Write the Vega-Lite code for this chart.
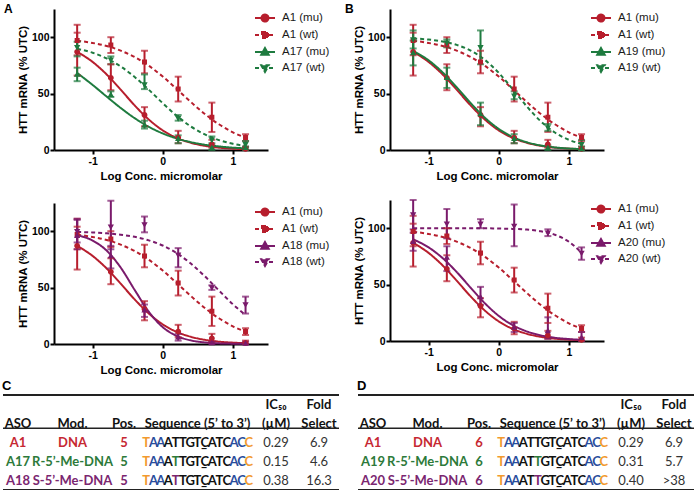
{
"$schema": "https://vega.github.io/schema/vega-lite/v6.json",
"background": "white",
"padding": {"left": 2, "top": 3, "right": 0, "bottom": 0},
"config": {
  "view": {"stroke": null},
  "font": "Liberation Sans",
  "axis": {"grid": false, "domainColor": "#000", "domainWidth": 2, "tickColor": "#000", "tickWidth": 2, "tickSize": 4, "labelFont": "Liberation Sans", "labelFontWeight": "bold", "labelFontSize": 10.5, "labelColor": "#000", "titleFont": "Liberation Sans", "titleFontWeight": "bold", "titleFontSize": 11.5, "titleColor": "#000"},
  "axisX": {"labelPadding": 2, "titlePadding": 4},
  "axisY": {"labelPadding": 1, "titlePadding": 3},
  "legend": {"labelFont": "Liberation Sans", "labelFontSize": 11.5, "labelColor": "#1a1a1a", "labelLimit": 200, "symbolOpacity": 1, "orient": "right", "offset": -12, "padding": 3, "symbolSize": 100, "labelOffset": 11, "rowPadding": 2, "symbolStrokeWidth": 2}
},
"datasets": {
"pts": [
{"p":"ctrl","s":"A1 (mu)","x":-1.22,"y":87,"lo":66,"hi":104},
{"p":"ctrl","s":"A1 (mu)","x":-0.74,"y":64,"lo":53,"hi":76},
{"p":"ctrl","s":"A1 (mu)","x":-0.26,"y":31,"lo":21,"hi":38},
{"p":"ctrl","s":"A1 (mu)","x":0.22,"y":11,"lo":6,"hi":17},
{"p":"ctrl","s":"A1 (mu)","x":0.7,"y":5,"lo":2,"hi":9},
{"p":"ctrl","s":"A1 (mu)","x":1.18,"y":1,"lo":0,"hi":3},
{"p":"ctrl","s":"A1 (wt)","x":-1.22,"y":97,"lo":84,"hi":111},
{"p":"ctrl","s":"A1 (wt)","x":-0.74,"y":93,"lo":86,"hi":100},
{"p":"ctrl","s":"A1 (wt)","x":-0.26,"y":78,"lo":68,"hi":88},
{"p":"ctrl","s":"A1 (wt)","x":0.22,"y":54,"lo":43,"hi":65},
{"p":"ctrl","s":"A1 (wt)","x":0.7,"y":29,"lo":16,"hi":42},
{"p":"ctrl","s":"A1 (wt)","x":1.18,"y":11,"lo":8,"hi":14},
{"p":"A","s":"A17 (mu)","x":-1.22,"y":67,"lo":61,"hi":73},
{"p":"A","s":"A17 (mu)","x":-0.74,"y":49,"lo":47,"hi":52},
{"p":"A","s":"A17 (mu)","x":-0.26,"y":22,"lo":19,"hi":26},
{"p":"A","s":"A17 (mu)","x":0.22,"y":10,"lo":6,"hi":13},
{"p":"A","s":"A17 (mu)","x":0.7,"y":2,"lo":0,"hi":4},
{"p":"A","s":"A17 (mu)","x":1.18,"y":2,"lo":0,"hi":3},
{"p":"A","s":"A17 (wt)","x":-1.22,"y":91,"lo":83,"hi":96},
{"p":"A","s":"A17 (wt)","x":-0.74,"y":80,"lo":76,"hi":83},
{"p":"A","s":"A17 (wt)","x":-0.26,"y":58,"lo":54,"hi":67},
{"p":"A","s":"A17 (wt)","x":0.22,"y":28,"lo":26,"hi":31},
{"p":"A","s":"A17 (wt)","x":0.7,"y":9,"lo":6,"hi":12},
{"p":"A","s":"A17 (wt)","x":1.18,"y":5,"lo":2,"hi":8},
{"p":"B","s":"A19 (mu)","x":-1.22,"y":86,"lo":75,"hi":97},
{"p":"B","s":"A19 (mu)","x":-0.74,"y":64,"lo":55,"hi":73},
{"p":"B","s":"A19 (mu)","x":-0.26,"y":32,"lo":22,"hi":42},
{"p":"B","s":"A19 (mu)","x":0.22,"y":10,"lo":6,"hi":14},
{"p":"B","s":"A19 (mu)","x":0.7,"y":2,"lo":0,"hi":4},
{"p":"B","s":"A19 (mu)","x":1.18,"y":1,"lo":0,"hi":3},
{"p":"B","s":"A19 (wt)","x":-1.22,"y":98,"lo":90,"hi":106},
{"p":"B","s":"A19 (wt)","x":-0.74,"y":95,"lo":91,"hi":98},
{"p":"B","s":"A19 (wt)","x":-0.26,"y":91,"lo":76,"hi":106},
{"p":"B","s":"A19 (wt)","x":0.22,"y":48,"lo":45,"hi":52},
{"p":"B","s":"A19 (wt)","x":0.7,"y":20,"lo":17,"hi":23},
{"p":"B","s":"A19 (wt)","x":1.18,"y":5,"lo":1,"hi":9},
{"p":"C","s":"A18 (mu)","x":-1.22,"y":96,"lo":84,"hi":110},
{"p":"C","s":"A18 (mu)","x":-0.74,"y":78,"lo":67,"hi":87},
{"p":"C","s":"A18 (mu)","x":-0.26,"y":30,"lo":24,"hi":35},
{"p":"C","s":"A18 (mu)","x":0.22,"y":6,"lo":3,"hi":9},
{"p":"C","s":"A18 (mu)","x":0.7,"y":1,"lo":0,"hi":2},
{"p":"C","s":"A18 (mu)","x":1.18,"y":0.5,"lo":0,"hi":2},
{"p":"C","s":"A18 (wt)","x":-1.22,"y":100,"lo":90,"hi":111},
{"p":"C","s":"A18 (wt)","x":-0.74,"y":104,"lo":84,"hi":127},
{"p":"C","s":"A18 (wt)","x":-0.26,"y":106,"lo":99,"hi":113},
{"p":"C","s":"A18 (wt)","x":0.22,"y":79,"lo":68,"hi":85},
{"p":"C","s":"A18 (wt)","x":0.7,"y":50,"lo":48,"hi":52},
{"p":"C","s":"A18 (wt)","x":1.18,"y":35,"lo":27,"hi":42},
{"p":"D","s":"A20 (mu)","x":-1.22,"y":88,"lo":80,"hi":96},
{"p":"D","s":"A20 (mu)","x":-0.74,"y":74,"lo":62,"hi":84},
{"p":"D","s":"A20 (mu)","x":-0.26,"y":39,"lo":32,"hi":48},
{"p":"D","s":"A20 (mu)","x":0.22,"y":12,"lo":8,"hi":16},
{"p":"D","s":"A20 (mu)","x":0.7,"y":9,"lo":2,"hi":21},
{"p":"D","s":"A20 (mu)","x":1.18,"y":3,"lo":0,"hi":8},
{"p":"D","s":"A20 (wt)","x":-1.22,"y":112,"lo":99,"hi":125},
{"p":"D","s":"A20 (wt)","x":-0.74,"y":104,"lo":91,"hi":117},
{"p":"D","s":"A20 (wt)","x":-0.26,"y":104,"lo":100,"hi":108},
{"p":"D","s":"A20 (wt)","x":0.22,"y":102,"lo":84,"hi":121},
{"p":"D","s":"A20 (wt)","x":0.7,"y":96,"lo":93,"hi":99},
{"p":"D","s":"A20 (wt)","x":1.18,"y":78,"lo":72,"hi":83}
],
"curves": [
{"p":"ctrl","s":"A1 (mu)","x":-1.22,"y":87.0},{"p":"ctrl","s":"A1 (mu)","x":-1.0,"y":78.1},{"p":"ctrl","s":"A1 (mu)","x":-0.8,"y":67.0},{"p":"ctrl","s":"A1 (mu)","x":-0.6,"y":53.5},{"p":"ctrl","s":"A1 (mu)","x":-0.4,"y":39.5},{"p":"ctrl","s":"A1 (mu)","x":-0.2,"y":27.1},{"p":"ctrl","s":"A1 (mu)","x":0,"y":17.4},{"p":"ctrl","s":"A1 (mu)","x":0.2,"y":10.7},{"p":"ctrl","s":"A1 (mu)","x":0.4,"y":6.4},{"p":"ctrl","s":"A1 (mu)","x":0.6,"y":3.7},{"p":"ctrl","s":"A1 (mu)","x":0.8,"y":2.1},{"p":"ctrl","s":"A1 (mu)","x":1.0,"y":1.2},{"p":"ctrl","s":"A1 (mu)","x":1.18,"y":0.7},
{"p":"ctrl","s":"A1 (wt)","x":-1.22,"y":96.9},{"p":"ctrl","s":"A1 (wt)","x":-1.0,"y":94.9},{"p":"ctrl","s":"A1 (wt)","x":-0.8,"y":92.2},{"p":"ctrl","s":"A1 (wt)","x":-0.6,"y":88.1},{"p":"ctrl","s":"A1 (wt)","x":-0.4,"y":82.4},{"p":"ctrl","s":"A1 (wt)","x":-0.2,"y":74.7},{"p":"ctrl","s":"A1 (wt)","x":0,"y":65.1},{"p":"ctrl","s":"A1 (wt)","x":0.2,"y":54.0},{"p":"ctrl","s":"A1 (wt)","x":0.4,"y":42.6},{"p":"ctrl","s":"A1 (wt)","x":0.6,"y":31.9},{"p":"ctrl","s":"A1 (wt)","x":0.8,"y":22.8},{"p":"ctrl","s":"A1 (wt)","x":1.0,"y":15.7},{"p":"ctrl","s":"A1 (wt)","x":1.18,"y":10.9},
{"p":"A","s":"A17 (mu)","x":-1.22,"y":68.3},{"p":"A","s":"A17 (mu)","x":-1.0,"y":57.7},{"p":"A","s":"A17 (mu)","x":-0.8,"y":47.4},{"p":"A","s":"A17 (mu)","x":-0.6,"y":37.3},{"p":"A","s":"A17 (mu)","x":-0.4,"y":28.2},{"p":"A","s":"A17 (mu)","x":-0.2,"y":20.6},{"p":"A","s":"A17 (mu)","x":0,"y":14.7},{"p":"A","s":"A17 (mu)","x":0.2,"y":10.2},{"p":"A","s":"A17 (mu)","x":0.4,"y":7.0},{"p":"A","s":"A17 (mu)","x":0.6,"y":4.7},{"p":"A","s":"A17 (mu)","x":0.8,"y":3.2},{"p":"A","s":"A17 (mu)","x":1.0,"y":2.1},{"p":"A","s":"A17 (mu)","x":1.18,"y":1.5},
{"p":"A","s":"A17 (wt)","x":-1.22,"y":89.7},{"p":"A","s":"A17 (wt)","x":-1.0,"y":86.2},{"p":"A","s":"A17 (wt)","x":-0.8,"y":81.2},{"p":"A","s":"A17 (wt)","x":-0.6,"y":74.1},{"p":"A","s":"A17 (wt)","x":-0.4,"y":64.7},{"p":"A","s":"A17 (wt)","x":-0.2,"y":53.5},{"p":"A","s":"A17 (wt)","x":0,"y":41.5},{"p":"A","s":"A17 (wt)","x":0.2,"y":30.3},{"p":"A","s":"A17 (wt)","x":0.4,"y":20.9},{"p":"A","s":"A17 (wt)","x":0.6,"y":13.8},{"p":"A","s":"A17 (wt)","x":0.8,"y":8.8},{"p":"A","s":"A17 (wt)","x":1.0,"y":5.5},{"p":"A","s":"A17 (wt)","x":1.18,"y":3.6},
{"p":"B","s":"A19 (mu)","x":-1.22,"y":87.9},{"p":"B","s":"A19 (mu)","x":-1.0,"y":79.5},{"p":"B","s":"A19 (mu)","x":-0.8,"y":68.8},{"p":"B","s":"A19 (mu)","x":-0.6,"y":55.6},{"p":"B","s":"A19 (mu)","x":-0.4,"y":41.6},{"p":"B","s":"A19 (mu)","x":-0.2,"y":28.8},{"p":"B","s":"A19 (mu)","x":0,"y":18.7},{"p":"B","s":"A19 (mu)","x":0.2,"y":11.5},{"p":"B","s":"A19 (mu)","x":0.4,"y":6.9},{"p":"B","s":"A19 (mu)","x":0.6,"y":4.0},{"p":"B","s":"A19 (mu)","x":0.8,"y":2.3},{"p":"B","s":"A19 (mu)","x":1.0,"y":1.3},{"p":"B","s":"A19 (mu)","x":1.18,"y":0.8},
{"p":"B","s":"A19 (wt)","x":-1.22,"y":98.9},{"p":"B","s":"A19 (wt)","x":-1.0,"y":97.9},{"p":"B","s":"A19 (wt)","x":-0.8,"y":96.2},{"p":"B","s":"A19 (wt)","x":-0.6,"y":93.2},{"p":"B","s":"A19 (wt)","x":-0.4,"y":88.1},{"p":"B","s":"A19 (wt)","x":-0.2,"y":80.0},{"p":"B","s":"A19 (wt)","x":0,"y":68.4},{"p":"B","s":"A19 (wt)","x":0.2,"y":53.8},{"p":"B","s":"A19 (wt)","x":0.4,"y":38.6},{"p":"B","s":"A19 (wt)","x":0.6,"y":25.4},{"p":"B","s":"A19 (wt)","x":0.8,"y":15.5},{"p":"B","s":"A19 (wt)","x":1.0,"y":9.0},{"p":"B","s":"A19 (wt)","x":1.18,"y":5.4},
{"p":"C","s":"A18 (mu)","x":-1.22,"y":96.5},{"p":"C","s":"A18 (mu)","x":-1.0,"y":91.7},{"p":"C","s":"A18 (mu)","x":-0.8,"y":82.8},{"p":"C","s":"A18 (mu)","x":-0.6,"y":67.8},{"p":"C","s":"A18 (mu)","x":-0.4,"y":47.9},{"p":"C","s":"A18 (mu)","x":-0.2,"y":28.7},{"p":"C","s":"A18 (mu)","x":0,"y":14.9},{"p":"C","s":"A18 (mu)","x":0.2,"y":7.1},{"p":"C","s":"A18 (mu)","x":0.4,"y":3.2},{"p":"C","s":"A18 (mu)","x":0.6,"y":1.4},{"p":"C","s":"A18 (mu)","x":0.8,"y":0.6},{"p":"C","s":"A18 (mu)","x":1.0,"y":0.3},{"p":"C","s":"A18 (mu)","x":1.18,"y":0.1},
{"p":"C","s":"A18 (wt)","x":-1.22,"y":99.3},{"p":"C","s":"A18 (wt)","x":-1.0,"y":98.9},{"p":"C","s":"A18 (wt)","x":-0.8,"y":98.1},{"p":"C","s":"A18 (wt)","x":-0.6,"y":96.9},{"p":"C","s":"A18 (wt)","x":-0.4,"y":95.0},{"p":"C","s":"A18 (wt)","x":-0.2,"y":91.9},{"p":"C","s":"A18 (wt)","x":0,"y":87.3},{"p":"C","s":"A18 (wt)","x":0.2,"y":80.5},{"p":"C","s":"A18 (wt)","x":0.4,"y":71.3},{"p":"C","s":"A18 (wt)","x":0.6,"y":60.0},{"p":"C","s":"A18 (wt)","x":0.8,"y":47.5},{"p":"C","s":"A18 (wt)","x":1.0,"y":35.2},{"p":"C","s":"A18 (wt)","x":1.18,"y":25.6},
{"p":"D","s":"A20 (mu)","x":-1.22,"y":90.1},{"p":"D","s":"A20 (mu)","x":-1.0,"y":83.0},{"p":"D","s":"A20 (mu)","x":-0.8,"y":73.5},{"p":"D","s":"A20 (mu)","x":-0.6,"y":61.2},{"p":"D","s":"A20 (mu)","x":-0.4,"y":47.2},{"p":"D","s":"A20 (mu)","x":-0.2,"y":33.6},{"p":"D","s":"A20 (mu)","x":0,"y":22.3},{"p":"D","s":"A20 (mu)","x":0.2,"y":14.0},{"p":"D","s":"A20 (mu)","x":0.4,"y":8.5},{"p":"D","s":"A20 (mu)","x":0.6,"y":5.0},{"p":"D","s":"A20 (mu)","x":0.8,"y":2.9},{"p":"D","s":"A20 (mu)","x":1.0,"y":1.7},{"p":"D","s":"A20 (mu)","x":1.18,"y":1.0},
{"p":"D","s":"A20 (wt)","x":-1.22,"y":100.0},{"p":"D","s":"A20 (wt)","x":-1.0,"y":100.0},{"p":"D","s":"A20 (wt)","x":-0.8,"y":99.9},{"p":"D","s":"A20 (wt)","x":-0.6,"y":99.9},{"p":"D","s":"A20 (wt)","x":-0.4,"y":99.9},{"p":"D","s":"A20 (wt)","x":-0.2,"y":99.9},{"p":"D","s":"A20 (wt)","x":0,"y":99.7},{"p":"D","s":"A20 (wt)","x":0.2,"y":99.4},{"p":"D","s":"A20 (wt)","x":0.4,"y":98.8},{"p":"D","s":"A20 (wt)","x":0.6,"y":97.3},{"p":"D","s":"A20 (wt)","x":0.8,"y":94.2},{"p":"D","s":"A20 (wt)","x":1.0,"y":88.0},{"p":"D","s":"A20 (wt)","x":1.18,"y":78.2}
],
"cells": [
{"t":"C","col":"ASO","row":"h2","text":"ASO","g":"header"},
{"t":"C","col":"Mod","row":"h2","text":"Mod.","g":"header"},
{"t":"C","col":"Pos","row":"h2","text":"Pos.","g":"header"},
{"t":"C","col":"Seq","row":"h2","text":"Sequence (5’ to 3’)","g":"header"},
{"t":"C","col":"IC50","row":"h1","text":"IC₅₀","g":"header"},
{"t":"C","col":"IC50","row":"h2","text":"(µM)","g":"header"},
{"t":"C","col":"Fold","row":"h1","text":"Fold","g":"header"},
{"t":"C","col":"Fold","row":"h2","text":"Select","g":"header"},
{"t":"C","col":"ASO","row":"r1","text":"A1","g":"A1"},
{"t":"C","col":"Mod","row":"r1","text":"DNA","g":"A1"},
{"t":"C","col":"Pos","row":"r1","text":"5","g":"A1"},
{"t":"C","col":"IC50","row":"r1","text":"0.29","g":"value"},
{"t":"C","col":"Fold","row":"r1","text":"6.9","g":"value"},
{"t":"C","col":"ASO","row":"r2","text":"A17","g":"A17"},
{"t":"C","col":"Mod","row":"r2","text":"R-5’-Me-DNA","g":"A17"},
{"t":"C","col":"Pos","row":"r2","text":"5","g":"A17"},
{"t":"C","col":"IC50","row":"r2","text":"0.15","g":"value"},
{"t":"C","col":"Fold","row":"r2","text":"4.6","g":"value"},
{"t":"C","col":"ASO","row":"r3","text":"A18","g":"A18"},
{"t":"C","col":"Mod","row":"r3","text":"S-5’-Me-DNA","g":"A18"},
{"t":"C","col":"Pos","row":"r3","text":"5","g":"A18"},
{"t":"C","col":"IC50","row":"r3","text":"0.38","g":"value"},
{"t":"C","col":"Fold","row":"r3","text":"16.3","g":"value"},
{"t":"D","col":"ASO","row":"h2","text":"ASO","g":"header"},
{"t":"D","col":"Mod","row":"h2","text":"Mod.","g":"header"},
{"t":"D","col":"Pos","row":"h2","text":"Pos.","g":"header"},
{"t":"D","col":"Seq","row":"h2","text":"Sequence (5’ to 3’)","g":"header"},
{"t":"D","col":"IC50","row":"h1","text":"IC₅₀","g":"header"},
{"t":"D","col":"IC50","row":"h2","text":"(µM)","g":"header"},
{"t":"D","col":"Fold","row":"h1","text":"Fold","g":"header"},
{"t":"D","col":"Fold","row":"h2","text":"Select","g":"header"},
{"t":"D","col":"ASO","row":"r1","text":"A1","g":"A1"},
{"t":"D","col":"Mod","row":"r1","text":"DNA","g":"A1"},
{"t":"D","col":"Pos","row":"r1","text":"6","g":"A1"},
{"t":"D","col":"IC50","row":"r1","text":"0.29","g":"value"},
{"t":"D","col":"Fold","row":"r1","text":"6.9","g":"value"},
{"t":"D","col":"ASO","row":"r2","text":"A19","g":"A19"},
{"t":"D","col":"Mod","row":"r2","text":"R-5’-Me-DNA","g":"A19"},
{"t":"D","col":"Pos","row":"r2","text":"6","g":"A19"},
{"t":"D","col":"IC50","row":"r2","text":"0.31","g":"value"},
{"t":"D","col":"Fold","row":"r2","text":"5.7","g":"value"},
{"t":"D","col":"ASO","row":"r3","text":"A20","g":"A20"},
{"t":"D","col":"Mod","row":"r3","text":"S-5’-Me-DNA","g":"A20"},
{"t":"D","col":"Pos","row":"r3","text":"6","g":"A20"},
{"t":"D","col":"IC50","row":"r3","text":"0.40","g":"value"},
{"t":"D","col":"Fold","row":"r3","text":">38","g":"value"}
],
"seq": [
{"t":"C","row":"r1","i":1,"ch":"T","chem":"MOE"},{"t":"C","row":"r1","i":2,"ch":"A","chem":"cEt"},{"t":"C","row":"r1","i":3,"ch":"A","chem":"cEt"},{"t":"C","row":"r1","i":4,"ch":"A","chem":"DNA"},{"t":"C","row":"r1","i":5,"ch":"T","chem":"DNA"},{"t":"C","row":"r1","i":6,"ch":"T","chem":"DNA"},{"t":"C","row":"r1","i":7,"ch":"G","chem":"DNA"},{"t":"C","row":"r1","i":8,"ch":"T\u0332","chem":"DNA"},{"t":"C","row":"r1","i":9,"ch":"C","chem":"DNA"},{"t":"C","row":"r1","i":10,"ch":"A","chem":"DNA"},{"t":"C","row":"r1","i":11,"ch":"T","chem":"DNA"},{"t":"C","row":"r1","i":12,"ch":"C","chem":"DNA"},{"t":"C","row":"r1","i":13,"ch":"A","chem":"cEt"},{"t":"C","row":"r1","i":14,"ch":"C","chem":"cEt"},{"t":"C","row":"r1","i":15,"ch":"C","chem":"MOE"},
{"t":"C","row":"r2","i":1,"ch":"T","chem":"MOE"},{"t":"C","row":"r2","i":2,"ch":"A","chem":"cEt"},{"t":"C","row":"r2","i":3,"ch":"A","chem":"cEt"},{"t":"C","row":"r2","i":4,"ch":"A","chem":"DNA"},{"t":"C","row":"r2","i":5,"ch":"T","chem":"R"},{"t":"C","row":"r2","i":6,"ch":"T","chem":"DNA"},{"t":"C","row":"r2","i":7,"ch":"G","chem":"DNA"},{"t":"C","row":"r2","i":8,"ch":"T\u0332","chem":"DNA"},{"t":"C","row":"r2","i":9,"ch":"C","chem":"DNA"},{"t":"C","row":"r2","i":10,"ch":"A","chem":"DNA"},{"t":"C","row":"r2","i":11,"ch":"T","chem":"DNA"},{"t":"C","row":"r2","i":12,"ch":"C","chem":"DNA"},{"t":"C","row":"r2","i":13,"ch":"A","chem":"cEt"},{"t":"C","row":"r2","i":14,"ch":"C","chem":"cEt"},{"t":"C","row":"r2","i":15,"ch":"C","chem":"MOE"},
{"t":"C","row":"r3","i":1,"ch":"T","chem":"MOE"},{"t":"C","row":"r3","i":2,"ch":"A","chem":"cEt"},{"t":"C","row":"r3","i":3,"ch":"A","chem":"cEt"},{"t":"C","row":"r3","i":4,"ch":"A","chem":"DNA"},{"t":"C","row":"r3","i":5,"ch":"T","chem":"S"},{"t":"C","row":"r3","i":6,"ch":"T","chem":"DNA"},{"t":"C","row":"r3","i":7,"ch":"G","chem":"DNA"},{"t":"C","row":"r3","i":8,"ch":"T\u0332","chem":"DNA"},{"t":"C","row":"r3","i":9,"ch":"C","chem":"DNA"},{"t":"C","row":"r3","i":10,"ch":"A","chem":"DNA"},{"t":"C","row":"r3","i":11,"ch":"T","chem":"DNA"},{"t":"C","row":"r3","i":12,"ch":"C","chem":"DNA"},{"t":"C","row":"r3","i":13,"ch":"A","chem":"cEt"},{"t":"C","row":"r3","i":14,"ch":"C","chem":"cEt"},{"t":"C","row":"r3","i":15,"ch":"C","chem":"MOE"},
{"t":"D","row":"r1","i":1,"ch":"T","chem":"MOE"},{"t":"D","row":"r1","i":2,"ch":"A","chem":"cEt"},{"t":"D","row":"r1","i":3,"ch":"A","chem":"cEt"},{"t":"D","row":"r1","i":4,"ch":"A","chem":"DNA"},{"t":"D","row":"r1","i":5,"ch":"T","chem":"DNA"},{"t":"D","row":"r1","i":6,"ch":"T","chem":"DNA"},{"t":"D","row":"r1","i":7,"ch":"G","chem":"DNA"},{"t":"D","row":"r1","i":8,"ch":"T\u0332","chem":"DNA"},{"t":"D","row":"r1","i":9,"ch":"C","chem":"DNA"},{"t":"D","row":"r1","i":10,"ch":"A","chem":"DNA"},{"t":"D","row":"r1","i":11,"ch":"T","chem":"DNA"},{"t":"D","row":"r1","i":12,"ch":"C","chem":"DNA"},{"t":"D","row":"r1","i":13,"ch":"A","chem":"cEt"},{"t":"D","row":"r1","i":14,"ch":"C","chem":"cEt"},{"t":"D","row":"r1","i":15,"ch":"C","chem":"MOE"},
{"t":"D","row":"r2","i":1,"ch":"T","chem":"MOE"},{"t":"D","row":"r2","i":2,"ch":"A","chem":"cEt"},{"t":"D","row":"r2","i":3,"ch":"A","chem":"cEt"},{"t":"D","row":"r2","i":4,"ch":"A","chem":"DNA"},{"t":"D","row":"r2","i":5,"ch":"T","chem":"DNA"},{"t":"D","row":"r2","i":6,"ch":"T","chem":"R"},{"t":"D","row":"r2","i":7,"ch":"G","chem":"DNA"},{"t":"D","row":"r2","i":8,"ch":"T\u0332","chem":"DNA"},{"t":"D","row":"r2","i":9,"ch":"C","chem":"DNA"},{"t":"D","row":"r2","i":10,"ch":"A","chem":"DNA"},{"t":"D","row":"r2","i":11,"ch":"T","chem":"DNA"},{"t":"D","row":"r2","i":12,"ch":"C","chem":"DNA"},{"t":"D","row":"r2","i":13,"ch":"A","chem":"cEt"},{"t":"D","row":"r2","i":14,"ch":"C","chem":"cEt"},{"t":"D","row":"r2","i":15,"ch":"C","chem":"MOE"},
{"t":"D","row":"r3","i":1,"ch":"T","chem":"MOE"},{"t":"D","row":"r3","i":2,"ch":"A","chem":"cEt"},{"t":"D","row":"r3","i":3,"ch":"A","chem":"cEt"},{"t":"D","row":"r3","i":4,"ch":"A","chem":"DNA"},{"t":"D","row":"r3","i":5,"ch":"T","chem":"DNA"},{"t":"D","row":"r3","i":6,"ch":"T","chem":"S"},{"t":"D","row":"r3","i":7,"ch":"G","chem":"DNA"},{"t":"D","row":"r3","i":8,"ch":"T\u0332","chem":"DNA"},{"t":"D","row":"r3","i":9,"ch":"C","chem":"DNA"},{"t":"D","row":"r3","i":10,"ch":"A","chem":"DNA"},{"t":"D","row":"r3","i":11,"ch":"T","chem":"DNA"},{"t":"D","row":"r3","i":12,"ch":"C","chem":"DNA"},{"t":"D","row":"r3","i":13,"ch":"A","chem":"cEt"},{"t":"D","row":"r3","i":14,"ch":"C","chem":"cEt"},{"t":"D","row":"r3","i":15,"ch":"C","chem":"MOE"}
]
},
"resolve": {"scale": {"fill": "independent", "stroke": "independent", "color": "independent", "shape": "independent", "strokeDash": "independent"}},
"spacing": 4,
"columns": 1,
"align": "none",
"concat": [
{
"spacing": 0,
"resolve": {"scale": {"fill": "independent", "stroke": "independent", "shape": "independent", "strokeDash": "independent"}},
"hconcat": [
{"width": 1, "height": 1, "data": {"values": []}, "mark": "point"},
{
"hconcat": [
{
"vconcat": [
{
"width": 214, "height": 141,
"title": {"text": "A", "anchor": "start", "frame": "group", "dx": -50, "offset": -7, "fontSize": 12, "fontWeight": "bold", "font": "Liberation Sans", "color": "#000"},
"layer": [
{"data": {"name": "curves"}, "transform": [{"filter": "datum.p=='ctrl'||datum.p=='A'"}], "mark": {"type": "line", "strokeWidth": 2, "interpolate": "monotone"},
 "encoding": {
  "x": {"field": "x", "type": "quantitative", "scale": {"domain": [-1.55, 1.5], "nice": false, "zero": false}, "axis": {"values": [-1, 0, 1], "title": "Log Conc. micromolar", "labelExpr": "'' + datum.value"}},
  "y": {"field": "y", "type": "quantitative", "scale": {"domain": [0, 125], "nice": false}, "axis": {"values": [0, 25, 50, 75, 100, 125], "title": "HTT mRNA (% UTC)"}},
  "stroke": {"field": "s", "type": "nominal", "scale": {"domain": ["A1 (mu)", "A1 (wt)", "A17 (mu)", "A17 (wt)"], "range": ["#B71E2D", "#B71E2D", "#1E7B3F", "#1E7B3F"]}, "legend": {"title": null}},
  "strokeDash": {"field": "s", "type": "nominal", "scale": {"domain": ["A1 (mu)", "A1 (wt)", "A17 (mu)", "A17 (wt)"], "range": [[1, 0], [4, 3], [1, 0], [4, 3]]}, "legend": {"title": null}}
 }},
{"data": {"name": "pts"}, "transform": [{"filter": "datum.p=='ctrl'||datum.p=='A'"}], "mark": {"type": "rule", "strokeWidth": 2},
 "encoding": {"x": {"field": "x", "type": "quantitative"}, "y": {"field": "lo", "type": "quantitative"}, "y2": {"field": "hi"}, "stroke": {"field": "s", "type": "nominal"}}},
{"data": {"name": "pts"}, "transform": [{"filter": "datum.p=='ctrl'||datum.p=='A'"}], "mark": {"type": "tick", "orient": "horizontal", "size": 7, "thickness": 2},
 "encoding": {"x": {"field": "x", "type": "quantitative"}, "y": {"field": "lo", "type": "quantitative"}, "fill": {"field": "s", "type": "nominal"}}},
{"data": {"name": "pts"}, "transform": [{"filter": "datum.p=='ctrl'||datum.p=='A'"}], "mark": {"type": "tick", "orient": "horizontal", "size": 7, "thickness": 2},
 "encoding": {"x": {"field": "x", "type": "quantitative"}, "y": {"field": "hi", "type": "quantitative"}, "fill": {"field": "s", "type": "nominal"}}},
{"data": {"name": "pts"}, "transform": [{"filter": "datum.p=='ctrl'||datum.p=='A'"}], "mark": {"type": "point", "filled": true, "size": 70, "opacity": 1},
 "encoding": {"x": {"field": "x", "type": "quantitative"}, "y": {"field": "y", "type": "quantitative"},
  "fill": {"field": "s", "type": "nominal", "scale": {"domain": ["A1 (mu)", "A1 (wt)", "A17 (mu)", "A17 (wt)"], "range": ["#B71E2D", "#B71E2D", "#1E7B3F", "#1E7B3F"]}, "legend": {"title": null}},
  "shape": {"field": "s", "type": "nominal", "scale": {"domain": ["A1 (mu)", "A1 (wt)", "A17 (mu)", "A17 (wt)"], "range": ["M-2,0H2M0.7,0A0.7,0.7,0,1,1,-0.7,0A0.7,0.7,0,1,1,0.7,0Z", "M-2,0H2M-0.6,-0.6H0.6V0.6H-0.6Z", "M-2,0H2M0,-0.8L0.75,0.55H-0.75Z", "M-2,0H2M0,0.8L0.75,-0.55H-0.75Z"]}, "legend": {"title": null}}}}
]
},
{
"width": 214, "height": 141,
"layer": [
{"data": {"name": "curves"}, "transform": [{"filter": "datum.p=='ctrl'||datum.p=='C'"}], "mark": {"type": "line", "strokeWidth": 2, "interpolate": "monotone"},
 "encoding": {
  "x": {"field": "x", "type": "quantitative", "scale": {"domain": [-1.55, 1.5], "nice": false, "zero": false}, "axis": {"values": [-1, 0, 1], "title": "Log Conc. micromolar", "labelExpr": "'' + datum.value"}},
  "y": {"field": "y", "type": "quantitative", "scale": {"domain": [0, 125], "nice": false}, "axis": {"values": [0, 25, 50, 75, 100, 125], "title": "HTT mRNA (% UTC)"}},
  "stroke": {"field": "s", "type": "nominal", "scale": {"domain": ["A1 (mu)", "A1 (wt)", "A18 (mu)", "A18 (wt)"], "range": ["#B71E2D", "#B71E2D", "#7A1A6B", "#7A1A6B"]}, "legend": {"title": null}},
  "strokeDash": {"field": "s", "type": "nominal", "scale": {"domain": ["A1 (mu)", "A1 (wt)", "A18 (mu)", "A18 (wt)"], "range": [[1, 0], [4, 3], [1, 0], [4, 3]]}, "legend": {"title": null}}
 }},
{"data": {"name": "pts"}, "transform": [{"filter": "datum.p=='ctrl'||datum.p=='C'"}], "mark": {"type": "rule", "strokeWidth": 2},
 "encoding": {"x": {"field": "x", "type": "quantitative"}, "y": {"field": "lo", "type": "quantitative"}, "y2": {"field": "hi"}, "stroke": {"field": "s", "type": "nominal"}}},
{"data": {"name": "pts"}, "transform": [{"filter": "datum.p=='ctrl'||datum.p=='C'"}], "mark": {"type": "tick", "orient": "horizontal", "size": 7, "thickness": 2},
 "encoding": {"x": {"field": "x", "type": "quantitative"}, "y": {"field": "lo", "type": "quantitative"}, "fill": {"field": "s", "type": "nominal"}}},
{"data": {"name": "pts"}, "transform": [{"filter": "datum.p=='ctrl'||datum.p=='C'"}], "mark": {"type": "tick", "orient": "horizontal", "size": 7, "thickness": 2},
 "encoding": {"x": {"field": "x", "type": "quantitative"}, "y": {"field": "hi", "type": "quantitative"}, "fill": {"field": "s", "type": "nominal"}}},
{"data": {"name": "pts"}, "transform": [{"filter": "datum.p=='ctrl'||datum.p=='C'"}], "mark": {"type": "point", "filled": true, "size": 70, "opacity": 1},
 "encoding": {"x": {"field": "x", "type": "quantitative"}, "y": {"field": "y", "type": "quantitative"},
  "fill": {"field": "s", "type": "nominal", "scale": {"domain": ["A1 (mu)", "A1 (wt)", "A18 (mu)", "A18 (wt)"], "range": ["#B71E2D", "#B71E2D", "#7A1A6B", "#7A1A6B"]}, "legend": {"title": null}},
  "shape": {"field": "s", "type": "nominal", "scale": {"domain": ["A1 (mu)", "A1 (wt)", "A18 (mu)", "A18 (wt)"], "range": ["M-2,0H2M0.7,0A0.7,0.7,0,1,1,-0.7,0A0.7,0.7,0,1,1,0.7,0Z", "M-2,0H2M-0.6,-0.6H0.6V0.6H-0.6Z", "M-2,0H2M0,-0.8L0.75,0.55H-0.75Z", "M-2,0H2M0,0.8L0.75,-0.55H-0.75Z"]}, "legend": {"title": null}}}}
]
}
],
"spacing": 17,
"resolve": {"scale": {"fill": "independent", "stroke": "independent", "shape": "independent", "strokeDash": "independent"}}
},
{
"vconcat": [
{
"width": 214, "height": 141,
"title": {"text": "B", "anchor": "start", "frame": "group", "dx": -45, "offset": -7, "fontSize": 12, "fontWeight": "bold", "font": "Liberation Sans", "color": "#000"},
"layer": [
{"data": {"name": "curves"}, "transform": [{"filter": "datum.p=='ctrl'||datum.p=='B'"}], "mark": {"type": "line", "strokeWidth": 2, "interpolate": "monotone"},
 "encoding": {
  "x": {"field": "x", "type": "quantitative", "scale": {"domain": [-1.55, 1.5], "nice": false, "zero": false}, "axis": {"values": [-1, 0, 1], "title": "Log Conc. micromolar", "labelExpr": "'' + datum.value"}},
  "y": {"field": "y", "type": "quantitative", "scale": {"domain": [0, 125], "nice": false}, "axis": {"values": [0, 25, 50, 75, 100, 125], "title": "HTT mRNA (% UTC)"}},
  "stroke": {"field": "s", "type": "nominal", "scale": {"domain": ["A1 (mu)", "A1 (wt)", "A19 (mu)", "A19 (wt)"], "range": ["#B71E2D", "#B71E2D", "#1E7B3F", "#1E7B3F"]}, "legend": {"title": null}},
  "strokeDash": {"field": "s", "type": "nominal", "scale": {"domain": ["A1 (mu)", "A1 (wt)", "A19 (mu)", "A19 (wt)"], "range": [[1, 0], [4, 3], [1, 0], [4, 3]]}, "legend": {"title": null}}
 }},
{"data": {"name": "pts"}, "transform": [{"filter": "datum.p=='ctrl'||datum.p=='B'"}], "mark": {"type": "rule", "strokeWidth": 2},
 "encoding": {"x": {"field": "x", "type": "quantitative"}, "y": {"field": "lo", "type": "quantitative"}, "y2": {"field": "hi"}, "stroke": {"field": "s", "type": "nominal"}}},
{"data": {"name": "pts"}, "transform": [{"filter": "datum.p=='ctrl'||datum.p=='B'"}], "mark": {"type": "tick", "orient": "horizontal", "size": 7, "thickness": 2},
 "encoding": {"x": {"field": "x", "type": "quantitative"}, "y": {"field": "lo", "type": "quantitative"}, "fill": {"field": "s", "type": "nominal"}}},
{"data": {"name": "pts"}, "transform": [{"filter": "datum.p=='ctrl'||datum.p=='B'"}], "mark": {"type": "tick", "orient": "horizontal", "size": 7, "thickness": 2},
 "encoding": {"x": {"field": "x", "type": "quantitative"}, "y": {"field": "hi", "type": "quantitative"}, "fill": {"field": "s", "type": "nominal"}}},
{"data": {"name": "pts"}, "transform": [{"filter": "datum.p=='ctrl'||datum.p=='B'"}], "mark": {"type": "point", "filled": true, "size": 70, "opacity": 1},
 "encoding": {"x": {"field": "x", "type": "quantitative"}, "y": {"field": "y", "type": "quantitative"},
  "fill": {"field": "s", "type": "nominal", "scale": {"domain": ["A1 (mu)", "A1 (wt)", "A19 (mu)", "A19 (wt)"], "range": ["#B71E2D", "#B71E2D", "#1E7B3F", "#1E7B3F"]}, "legend": {"title": null}},
  "shape": {"field": "s", "type": "nominal", "scale": {"domain": ["A1 (mu)", "A1 (wt)", "A19 (mu)", "A19 (wt)"], "range": ["M-2,0H2M0.7,0A0.7,0.7,0,1,1,-0.7,0A0.7,0.7,0,1,1,0.7,0Z", "M-2,0H2M-0.6,-0.6H0.6V0.6H-0.6Z", "M-2,0H2M0,-0.8L0.75,0.55H-0.75Z", "M-2,0H2M0,0.8L0.75,-0.55H-0.75Z"]}, "legend": {"title": null}}}}
]
},
{
"width": 214, "height": 141,
"layer": [
{"data": {"name": "curves"}, "transform": [{"filter": "datum.p=='ctrl'||datum.p=='D'"}], "mark": {"type": "line", "strokeWidth": 2, "interpolate": "monotone"},
 "encoding": {
  "x": {"field": "x", "type": "quantitative", "scale": {"domain": [-1.55, 1.5], "nice": false, "zero": false}, "axis": {"values": [-1, 0, 1], "title": "Log Conc. micromolar", "labelExpr": "'' + datum.value"}},
  "y": {"field": "y", "type": "quantitative", "scale": {"domain": [0, 125], "nice": false}, "axis": {"values": [0, 25, 50, 75, 100, 125], "title": "HTT mRNA (% UTC)"}},
  "stroke": {"field": "s", "type": "nominal", "scale": {"domain": ["A1 (mu)", "A1 (wt)", "A20 (mu)", "A20 (wt)"], "range": ["#B71E2D", "#B71E2D", "#7A1A6B", "#7A1A6B"]}, "legend": {"title": null}},
  "strokeDash": {"field": "s", "type": "nominal", "scale": {"domain": ["A1 (mu)", "A1 (wt)", "A20 (mu)", "A20 (wt)"], "range": [[1, 0], [4, 3], [1, 0], [4, 3]]}, "legend": {"title": null}}
 }},
{"data": {"name": "pts"}, "transform": [{"filter": "datum.p=='ctrl'||datum.p=='D'"}], "mark": {"type": "rule", "strokeWidth": 2},
 "encoding": {"x": {"field": "x", "type": "quantitative"}, "y": {"field": "lo", "type": "quantitative"}, "y2": {"field": "hi"}, "stroke": {"field": "s", "type": "nominal"}}},
{"data": {"name": "pts"}, "transform": [{"filter": "datum.p=='ctrl'||datum.p=='D'"}], "mark": {"type": "tick", "orient": "horizontal", "size": 7, "thickness": 2},
 "encoding": {"x": {"field": "x", "type": "quantitative"}, "y": {"field": "lo", "type": "quantitative"}, "fill": {"field": "s", "type": "nominal"}}},
{"data": {"name": "pts"}, "transform": [{"filter": "datum.p=='ctrl'||datum.p=='D'"}], "mark": {"type": "tick", "orient": "horizontal", "size": 7, "thickness": 2},
 "encoding": {"x": {"field": "x", "type": "quantitative"}, "y": {"field": "hi", "type": "quantitative"}, "fill": {"field": "s", "type": "nominal"}}},
{"data": {"name": "pts"}, "transform": [{"filter": "datum.p=='ctrl'||datum.p=='D'"}], "mark": {"type": "point", "filled": true, "size": 70, "opacity": 1},
 "encoding": {"x": {"field": "x", "type": "quantitative"}, "y": {"field": "y", "type": "quantitative"},
  "fill": {"field": "s", "type": "nominal", "scale": {"domain": ["A1 (mu)", "A1 (wt)", "A20 (mu)", "A20 (wt)"], "range": ["#B71E2D", "#B71E2D", "#7A1A6B", "#7A1A6B"]}, "legend": {"title": null}},
  "shape": {"field": "s", "type": "nominal", "scale": {"domain": ["A1 (mu)", "A1 (wt)", "A20 (mu)", "A20 (wt)"], "range": ["M-2,0H2M0.7,0A0.7,0.7,0,1,1,-0.7,0A0.7,0.7,0,1,1,0.7,0Z", "M-2,0H2M-0.6,-0.6H0.6V0.6H-0.6Z", "M-2,0H2M0,-0.8L0.75,0.55H-0.75Z", "M-2,0H2M0,0.8L0.75,-0.55H-0.75Z"]}, "legend": {"title": null}}}}
]
}
],
"spacing": 17,
"resolve": {"scale": {"fill": "independent", "stroke": "independent", "shape": "independent", "strokeDash": "independent"}}
}
],
"spacing": 12,
"resolve": {"scale": {"fill": "independent", "stroke": "independent", "shape": "independent", "strokeDash": "independent"}}
}
]
},
{
"hconcat": [
{
"title": {"text": "C", "anchor": "start", "fontSize": 13, "fontWeight": "bold", "font": "Liberation Sans", "color": "#000", "offset": 1},
"spacing": 0,
"bounds": "flush",
"resolve": {"scale": {"color": "independent"}},
"hconcat": [
{"width": 30, "height": 95, "layer": [
 {"data": {"name": "cells"}, "transform": [{"filter": "datum.t=='C' && datum.col=='ASO' && datum.g!='value'"}], "mark": {"type": "text", "font": "Lato", "fontSize": 13, "fontWeight": "bold"},
  "encoding": {"y": {"field": "row", "type": "nominal", "scale": {"type": "band", "domain": ["h1", "h2", "r1", "r2", "r3"], "paddingInner": 0, "paddingOuter": 0}, "axis": null}, "text": {"field": "text"},
   "color": {"field": "g", "type": "nominal", "scale": {"domain": ["header", "value", "A1", "A17", "A18", "A19", "A20"], "range": ["#111111", "#333333", "#C62832", "#2D7A3A", "#7B2670", "#2D7A3A", "#7B2670"]}, "legend": null}}},
 {"data": {"values": [{}]}, "mark": {"type": "rule", "strokeWidth": 2, "color": "#222"}, "encoding": {"y": {"datum": "h1", "type": "nominal", "bandPosition": 0}}},
 {"data": {"values": [{}]}, "mark": {"type": "rule", "strokeWidth": 1.5, "color": "#222"}, "encoding": {"y": {"datum": "h2", "type": "nominal", "bandPosition": 0.75}}},
 {"data": {"values": [{}]}, "mark": {"type": "rule", "strokeWidth": 2, "color": "#222"}, "encoding": {"y": {"datum": "r3", "type": "nominal", "bandPosition": 1}}}
]},
{"width": 73, "height": 95, "layer": [
 {"data": {"name": "cells"}, "transform": [{"filter": "datum.t=='C' && datum.col=='Mod' && datum.g!='value'"}], "mark": {"type": "text", "font": "Lato", "fontSize": 13, "fontWeight": "bold", "dx": 3},
  "encoding": {"y": {"field": "row", "type": "nominal", "scale": {"type": "band", "domain": ["h1", "h2", "r1", "r2", "r3"], "paddingInner": 0, "paddingOuter": 0}, "axis": null}, "text": {"field": "text"},
   "color": {"field": "g", "type": "nominal", "scale": {"domain": ["header", "value", "A1", "A17", "A18", "A19", "A20"], "range": ["#111111", "#333333", "#C62832", "#2D7A3A", "#7B2670", "#2D7A3A", "#7B2670"]}, "legend": null}}},
 {"data": {"values": [{}]}, "mark": {"type": "rule", "strokeWidth": 2, "color": "#222"}, "encoding": {"y": {"datum": "h1", "type": "nominal", "bandPosition": 0}}},
 {"data": {"values": [{}]}, "mark": {"type": "rule", "strokeWidth": 1.5, "color": "#222"}, "encoding": {"y": {"datum": "h2", "type": "nominal", "bandPosition": 0.75}}},
 {"data": {"values": [{}]}, "mark": {"type": "rule", "strokeWidth": 2, "color": "#222"}, "encoding": {"y": {"datum": "r3", "type": "nominal", "bandPosition": 1}}}
]},
{"width": 36, "height": 95, "layer": [
 {"data": {"name": "cells"}, "transform": [{"filter": "datum.t=='C' && datum.col=='Pos' && datum.g!='value'"}], "mark": {"type": "text", "font": "Lato", "fontSize": 13, "fontWeight": "bold"},
  "encoding": {"y": {"field": "row", "type": "nominal", "scale": {"type": "band", "domain": ["h1", "h2", "r1", "r2", "r3"], "paddingInner": 0, "paddingOuter": 0}, "axis": null}, "text": {"field": "text"},
   "color": {"field": "g", "type": "nominal", "scale": {"domain": ["header", "value", "A1", "A17", "A18", "A19", "A20"], "range": ["#111111", "#333333", "#C62832", "#2D7A3A", "#7B2670", "#2D7A3A", "#7B2670"]}, "legend": null}}},
 {"data": {"values": [{}]}, "mark": {"type": "rule", "strokeWidth": 2, "color": "#222"}, "encoding": {"y": {"datum": "h1", "type": "nominal", "bandPosition": 0}}},
 {"data": {"values": [{}]}, "mark": {"type": "rule", "strokeWidth": 1.5, "color": "#222"}, "encoding": {"y": {"datum": "h2", "type": "nominal", "bandPosition": 0.75}}},
 {"data": {"values": [{}]}, "mark": {"type": "rule", "strokeWidth": 2, "color": "#222"}, "encoding": {"y": {"datum": "r3", "type": "nominal", "bandPosition": 1}}}
]},
{"width": 111, "height": 95, "layer": [
 {"data": {"name": "cells"}, "transform": [{"filter": "datum.t=='C' && datum.col=='Seq'"}], "mark": {"type": "text", "font": "Lato", "fontSize": 13, "fontWeight": "bold", "color": "#111111"},
  "encoding": {"y": {"field": "row", "type": "nominal", "scale": {"type": "band", "domain": ["h1", "h2", "r1", "r2", "r3"], "paddingInner": 0, "paddingOuter": 0}, "axis": null}, "text": {"field": "text"}}},
 {"data": {"name": "seq"}, "transform": [{"filter": "datum.t=='C'"}], "mark": {"type": "text", "font": "Lato", "fontSize": 13, "fontWeight": "bold"},
  "encoding": {"x": {"field": "i", "type": "ordinal", "scale": {"type": "point", "padding": 0.58}, "axis": null}, "y": {"field": "row", "type": "nominal"}, "text": {"field": "ch"},
   "color": {"field": "chem", "type": "nominal", "scale": {"domain": ["MOE", "cEt", "DNA", "R", "S"], "range": ["#F29A2E", "#2A4D9C", "#111111", "#2D7A3A", "#7B2670"]}, "legend": null}}},
 {"data": {"values": [{}]}, "mark": {"type": "rule", "strokeWidth": 2, "color": "#222"}, "encoding": {"y": {"datum": "h1", "type": "nominal", "bandPosition": 0}}},
 {"data": {"values": [{}]}, "mark": {"type": "rule", "strokeWidth": 1.5, "color": "#222"}, "encoding": {"y": {"datum": "h2", "type": "nominal", "bandPosition": 0.75}}},
 {"data": {"values": [{}]}, "mark": {"type": "rule", "strokeWidth": 2, "color": "#222"}, "encoding": {"y": {"datum": "r3", "type": "nominal", "bandPosition": 1}}}
]},
{"width": 46, "height": 95, "layer": [
 {"data": {"name": "cells"}, "transform": [{"filter": "datum.t=='C' && datum.col=='IC50' && datum.g!='value'"}], "mark": {"type": "text", "font": "Lato", "fontSize": 13, "fontWeight": "bold"},
  "encoding": {"y": {"field": "row", "type": "nominal", "scale": {"type": "band", "domain": ["h1", "h2", "r1", "r2", "r3"], "paddingInner": 0, "paddingOuter": 0}, "axis": null}, "text": {"field": "text"},
   "color": {"field": "g", "type": "nominal", "scale": {"domain": ["header", "value", "A1", "A17", "A18", "A19", "A20"], "range": ["#111111", "#333333", "#C62832", "#2D7A3A", "#7B2670", "#2D7A3A", "#7B2670"]}, "legend": null}}},
 {"data": {"name": "cells"}, "transform": [{"filter": "datum.t=='C' && datum.col=='IC50' && datum.g=='value'"}], "mark": {"type": "text", "font": "Lato", "fontSize": 13, "fontWeight": "normal"},
  "encoding": {"y": {"field": "row", "type": "nominal"}, "text": {"field": "text"}, "color": {"field": "g", "type": "nominal"}}},
 {"data": {"values": [{}]}, "mark": {"type": "rule", "strokeWidth": 2, "color": "#222"}, "encoding": {"y": {"datum": "h1", "type": "nominal", "bandPosition": 0}}},
 {"data": {"values": [{}]}, "mark": {"type": "rule", "strokeWidth": 1.5, "color": "#222"}, "encoding": {"y": {"datum": "h2", "type": "nominal", "bandPosition": 0.75}}},
 {"data": {"values": [{}]}, "mark": {"type": "rule", "strokeWidth": 2, "color": "#222"}, "encoding": {"y": {"datum": "r3", "type": "nominal", "bandPosition": 1}}}
]},
{"width": 40, "height": 95, "layer": [
 {"data": {"name": "cells"}, "transform": [{"filter": "datum.t=='C' && datum.col=='Fold' && datum.g!='value'"}], "mark": {"type": "text", "font": "Lato", "fontSize": 13, "fontWeight": "bold"},
  "encoding": {"y": {"field": "row", "type": "nominal", "scale": {"type": "band", "domain": ["h1", "h2", "r1", "r2", "r3"], "paddingInner": 0, "paddingOuter": 0}, "axis": null}, "text": {"field": "text"},
   "color": {"field": "g", "type": "nominal", "scale": {"domain": ["header", "value", "A1", "A17", "A18", "A19", "A20"], "range": ["#111111", "#333333", "#C62832", "#2D7A3A", "#7B2670", "#2D7A3A", "#7B2670"]}, "legend": null}}},
 {"data": {"name": "cells"}, "transform": [{"filter": "datum.t=='C' && datum.col=='Fold' && datum.g=='value'"}], "mark": {"type": "text", "font": "Lato", "fontSize": 13, "fontWeight": "normal"},
  "encoding": {"y": {"field": "row", "type": "nominal"}, "text": {"field": "text"}, "color": {"field": "g", "type": "nominal"}}},
 {"data": {"values": [{}]}, "mark": {"type": "rule", "strokeWidth": 2, "color": "#222"}, "encoding": {"y": {"datum": "h1", "type": "nominal", "bandPosition": 0}}},
 {"data": {"values": [{}]}, "mark": {"type": "rule", "strokeWidth": 1.5, "color": "#222"}, "encoding": {"y": {"datum": "h2", "type": "nominal", "bandPosition": 0.75}}},
 {"data": {"values": [{}]}, "mark": {"type": "rule", "strokeWidth": 2, "color": "#222"}, "encoding": {"y": {"datum": "r3", "type": "nominal", "bandPosition": 1}}}
]}
]
},
{
"title": {"text": "D", "anchor": "start", "fontSize": 13, "fontWeight": "bold", "font": "Liberation Sans", "color": "#000", "offset": 1},
"spacing": 0,
"bounds": "flush",
"resolve": {"scale": {"color": "independent"}},
"hconcat": [
{"width": 30, "height": 95, "layer": [
 {"data": {"name": "cells"}, "transform": [{"filter": "datum.t=='D' && datum.col=='ASO' && datum.g!='value'"}], "mark": {"type": "text", "font": "Lato", "fontSize": 13, "fontWeight": "bold"},
  "encoding": {"y": {"field": "row", "type": "nominal", "scale": {"type": "band", "domain": ["h1", "h2", "r1", "r2", "r3"], "paddingInner": 0, "paddingOuter": 0}, "axis": null}, "text": {"field": "text"},
   "color": {"field": "g", "type": "nominal", "scale": {"domain": ["header", "value", "A1", "A17", "A18", "A19", "A20"], "range": ["#111111", "#333333", "#C62832", "#2D7A3A", "#7B2670", "#2D7A3A", "#7B2670"]}, "legend": null}}},
 {"data": {"values": [{}]}, "mark": {"type": "rule", "strokeWidth": 2, "color": "#222"}, "encoding": {"y": {"datum": "h1", "type": "nominal", "bandPosition": 0}}},
 {"data": {"values": [{}]}, "mark": {"type": "rule", "strokeWidth": 1.5, "color": "#222"}, "encoding": {"y": {"datum": "h2", "type": "nominal", "bandPosition": 0.75}}},
 {"data": {"values": [{}]}, "mark": {"type": "rule", "strokeWidth": 2, "color": "#222"}, "encoding": {"y": {"datum": "r3", "type": "nominal", "bandPosition": 1}}}
]},
{"width": 73, "height": 95, "layer": [
 {"data": {"name": "cells"}, "transform": [{"filter": "datum.t=='D' && datum.col=='Mod' && datum.g!='value'"}], "mark": {"type": "text", "font": "Lato", "fontSize": 13, "fontWeight": "bold", "dx": 3},
  "encoding": {"y": {"field": "row", "type": "nominal", "scale": {"type": "band", "domain": ["h1", "h2", "r1", "r2", "r3"], "paddingInner": 0, "paddingOuter": 0}, "axis": null}, "text": {"field": "text"},
   "color": {"field": "g", "type": "nominal", "scale": {"domain": ["header", "value", "A1", "A17", "A18", "A19", "A20"], "range": ["#111111", "#333333", "#C62832", "#2D7A3A", "#7B2670", "#2D7A3A", "#7B2670"]}, "legend": null}}},
 {"data": {"values": [{}]}, "mark": {"type": "rule", "strokeWidth": 2, "color": "#222"}, "encoding": {"y": {"datum": "h1", "type": "nominal", "bandPosition": 0}}},
 {"data": {"values": [{}]}, "mark": {"type": "rule", "strokeWidth": 1.5, "color": "#222"}, "encoding": {"y": {"datum": "h2", "type": "nominal", "bandPosition": 0.75}}},
 {"data": {"values": [{}]}, "mark": {"type": "rule", "strokeWidth": 2, "color": "#222"}, "encoding": {"y": {"datum": "r3", "type": "nominal", "bandPosition": 1}}}
]},
{"width": 36, "height": 95, "layer": [
 {"data": {"name": "cells"}, "transform": [{"filter": "datum.t=='D' && datum.col=='Pos' && datum.g!='value'"}], "mark": {"type": "text", "font": "Lato", "fontSize": 13, "fontWeight": "bold"},
  "encoding": {"y": {"field": "row", "type": "nominal", "scale": {"type": "band", "domain": ["h1", "h2", "r1", "r2", "r3"], "paddingInner": 0, "paddingOuter": 0}, "axis": null}, "text": {"field": "text"},
   "color": {"field": "g", "type": "nominal", "scale": {"domain": ["header", "value", "A1", "A17", "A18", "A19", "A20"], "range": ["#111111", "#333333", "#C62832", "#2D7A3A", "#7B2670", "#2D7A3A", "#7B2670"]}, "legend": null}}},
 {"data": {"values": [{}]}, "mark": {"type": "rule", "strokeWidth": 2, "color": "#222"}, "encoding": {"y": {"datum": "h1", "type": "nominal", "bandPosition": 0}}},
 {"data": {"values": [{}]}, "mark": {"type": "rule", "strokeWidth": 1.5, "color": "#222"}, "encoding": {"y": {"datum": "h2", "type": "nominal", "bandPosition": 0.75}}},
 {"data": {"values": [{}]}, "mark": {"type": "rule", "strokeWidth": 2, "color": "#222"}, "encoding": {"y": {"datum": "r3", "type": "nominal", "bandPosition": 1}}}
]},
{"width": 111, "height": 95, "layer": [
 {"data": {"name": "cells"}, "transform": [{"filter": "datum.t=='D' && datum.col=='Seq'"}], "mark": {"type": "text", "font": "Lato", "fontSize": 13, "fontWeight": "bold", "color": "#111111"},
  "encoding": {"y": {"field": "row", "type": "nominal", "scale": {"type": "band", "domain": ["h1", "h2", "r1", "r2", "r3"], "paddingInner": 0, "paddingOuter": 0}, "axis": null}, "text": {"field": "text"}}},
 {"data": {"name": "seq"}, "transform": [{"filter": "datum.t=='D'"}], "mark": {"type": "text", "font": "Lato", "fontSize": 13, "fontWeight": "bold"},
  "encoding": {"x": {"field": "i", "type": "ordinal", "scale": {"type": "point", "padding": 0.58}, "axis": null}, "y": {"field": "row", "type": "nominal"}, "text": {"field": "ch"},
   "color": {"field": "chem", "type": "nominal", "scale": {"domain": ["MOE", "cEt", "DNA", "R", "S"], "range": ["#F29A2E", "#2A4D9C", "#111111", "#2D7A3A", "#7B2670"]}, "legend": null}}},
 {"data": {"values": [{}]}, "mark": {"type": "rule", "strokeWidth": 2, "color": "#222"}, "encoding": {"y": {"datum": "h1", "type": "nominal", "bandPosition": 0}}},
 {"data": {"values": [{}]}, "mark": {"type": "rule", "strokeWidth": 1.5, "color": "#222"}, "encoding": {"y": {"datum": "h2", "type": "nominal", "bandPosition": 0.75}}},
 {"data": {"values": [{}]}, "mark": {"type": "rule", "strokeWidth": 2, "color": "#222"}, "encoding": {"y": {"datum": "r3", "type": "nominal", "bandPosition": 1}}}
]},
{"width": 46, "height": 95, "layer": [
 {"data": {"name": "cells"}, "transform": [{"filter": "datum.t=='D' && datum.col=='IC50' && datum.g!='value'"}], "mark": {"type": "text", "font": "Lato", "fontSize": 13, "fontWeight": "bold"},
  "encoding": {"y": {"field": "row", "type": "nominal", "scale": {"type": "band", "domain": ["h1", "h2", "r1", "r2", "r3"], "paddingInner": 0, "paddingOuter": 0}, "axis": null}, "text": {"field": "text"},
   "color": {"field": "g", "type": "nominal", "scale": {"domain": ["header", "value", "A1", "A17", "A18", "A19", "A20"], "range": ["#111111", "#333333", "#C62832", "#2D7A3A", "#7B2670", "#2D7A3A", "#7B2670"]}, "legend": null}}},
 {"data": {"name": "cells"}, "transform": [{"filter": "datum.t=='D' && datum.col=='IC50' && datum.g=='value'"}], "mark": {"type": "text", "font": "Lato", "fontSize": 13, "fontWeight": "normal"},
  "encoding": {"y": {"field": "row", "type": "nominal"}, "text": {"field": "text"}, "color": {"field": "g", "type": "nominal"}}},
 {"data": {"values": [{}]}, "mark": {"type": "rule", "strokeWidth": 2, "color": "#222"}, "encoding": {"y": {"datum": "h1", "type": "nominal", "bandPosition": 0}}},
 {"data": {"values": [{}]}, "mark": {"type": "rule", "strokeWidth": 1.5, "color": "#222"}, "encoding": {"y": {"datum": "h2", "type": "nominal", "bandPosition": 0.75}}},
 {"data": {"values": [{}]}, "mark": {"type": "rule", "strokeWidth": 2, "color": "#222"}, "encoding": {"y": {"datum": "r3", "type": "nominal", "bandPosition": 1}}}
]},
{"width": 40, "height": 95, "layer": [
 {"data": {"name": "cells"}, "transform": [{"filter": "datum.t=='D' && datum.col=='Fold' && datum.g!='value'"}], "mark": {"type": "text", "font": "Lato", "fontSize": 13, "fontWeight": "bold"},
  "encoding": {"y": {"field": "row", "type": "nominal", "scale": {"type": "band", "domain": ["h1", "h2", "r1", "r2", "r3"], "paddingInner": 0, "paddingOuter": 0}, "axis": null}, "text": {"field": "text"},
   "color": {"field": "g", "type": "nominal", "scale": {"domain": ["header", "value", "A1", "A17", "A18", "A19", "A20"], "range": ["#111111", "#333333", "#C62832", "#2D7A3A", "#7B2670", "#2D7A3A", "#7B2670"]}, "legend": null}}},
 {"data": {"name": "cells"}, "transform": [{"filter": "datum.t=='D' && datum.col=='Fold' && datum.g=='value'"}], "mark": {"type": "text", "font": "Lato", "fontSize": 13, "fontWeight": "normal"},
  "encoding": {"y": {"field": "row", "type": "nominal"}, "text": {"field": "text"}, "color": {"field": "g", "type": "nominal"}}},
 {"data": {"values": [{}]}, "mark": {"type": "rule", "strokeWidth": 2, "color": "#222"}, "encoding": {"y": {"datum": "h1", "type": "nominal", "bandPosition": 0}}},
 {"data": {"values": [{}]}, "mark": {"type": "rule", "strokeWidth": 1.5, "color": "#222"}, "encoding": {"y": {"datum": "h2", "type": "nominal", "bandPosition": 0.75}}},
 {"data": {"values": [{}]}, "mark": {"type": "rule", "strokeWidth": 2, "color": "#222"}, "encoding": {"y": {"datum": "r3", "type": "nominal", "bandPosition": 1}}}
]}
]
}
],
"spacing": 17,
"resolve": {"scale": {"color": "independent"}}
}
]
}
